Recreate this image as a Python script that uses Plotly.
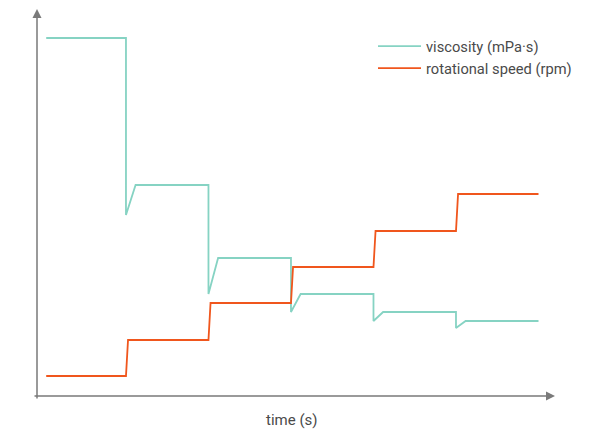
import plotly.graph_objects as go

# time in seconds
time_visc = [2, 60, 60, 67, 120, 120, 127, 180, 180, 187, 240, 240, 247, 300, 300, 307, 360]
viscosity = [358, 358, 181, 211, 211, 102, 138, 138, 84, 102, 102, 75, 84, 84, 68, 75, 75]

time_speed = [2, 60, 61.5, 120, 121.5, 180, 181.5, 240, 241.5, 300, 301.5, 360]
speed = [20, 20, 56, 56, 93, 93, 129, 129, 165, 165, 202, 202]

series_names = ["viscosity (mPa·s)", "rotational speed (rpm)"]
x_title = "time (s)"

TEAL = "#86d3c3"
ORANGE = "#f0561d"
AXIS = "#7a7a7a"
TEXT = "#4a4a4a"
FONT = "Roboto"

# page body adds an 8px offset; figure is sized to fill the remaining window
W, H = 598, 425
L, R, T, B = 29, 51, 0, 37
PW, PH = W - L - R, H - T - B

fig = go.Figure()
fig.add_trace(go.Scatter(x=time_visc, y=viscosity, mode="lines", name=series_names[0],
                         line=dict(color=TEAL, width=1.8)))
fig.add_trace(go.Scatter(x=time_speed, y=speed, mode="lines", name=series_names[1],
                         line=dict(color=ORANGE, width=1.8)))

ax_common = dict(showgrid=False, zeroline=False, showticklabels=False, showline=False, ticks="")
fig.update_xaxes(range=[-4.7, 372], **ax_common)
fig.update_yaxes(range=[0, 388], **ax_common)

annotations = [
    # y axis arrow
    dict(x=0, y=1, xref="paper", yref="paper", ax=0, ay=392, axref="pixel", ayref="pixel",
         text="", showarrow=True, arrowhead=2, arrowsize=1.2, arrowwidth=1.5, arrowcolor=AXIS, standoff=0),
    # x axis arrow
    dict(x=1, y=0, xref="paper", yref="paper", ax=-522, ay=0, axref="pixel", ayref="pixel",
         text="", showarrow=True, arrowhead=2, arrowsize=1.2, arrowwidth=1.5, arrowcolor=AXIS, standoff=0),
    dict(x=(283 - L) / PW, y=-(412 - PH) / PH, xref="paper", yref="paper", text=x_title,
         showarrow=False, font=dict(family=FONT, size=15, color=TEXT), xanchor="center", yanchor="middle"),
]

fig.update_layout(
    width=W, height=H,
    margin=dict(l=L, r=R, t=T, b=B),
    paper_bgcolor="white", plot_bgcolor="white",
    showlegend=True,
    legend=dict(x=(365 - L) / PW, y=(PH - 22) / PH, xanchor="left", yanchor="top",
                font=dict(family=FONT, size=14.7, color=TEXT), bgcolor="rgba(0,0,0,0)",
                borderwidth=0, tracegroupgap=0, itemwidth=43),
    annotations=annotations,
    font=dict(family=FONT, color=TEXT),
)

fig.write_html("out.html")
